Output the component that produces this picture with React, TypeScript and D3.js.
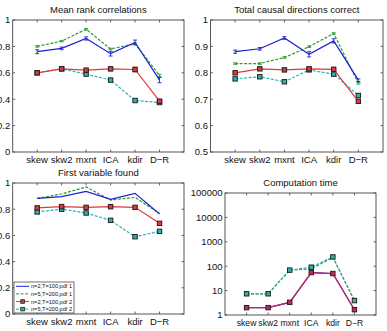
import React from "react";
import * as d3 from "d3";

// Methods on the x axis and the four experimental settings
const methods = ["skew", "skw2", "mxnt", "ICA", "kdir", "D−R"];
const seriesNames = ["n=2,T=100,pdf 1", "n=5,T=200,pdf 1", "n=2,T=100,pdf 2", "n=5,T=200,pdf 2"];

// Mean rank correlations
const mrcBlue = [0.76, 0.785, 0.86, 0.745, 0.83, 0.545];
const mrcGreen = [0.8, 0.84, 0.93, 0.78, 0.82, 0.58];
const mrcRed = [0.6, 0.63, 0.62, 0.63, 0.625, 0.385];
const mrcCyan = [0.6, 0.63, 0.59, 0.545, 0.39, 0.375];
const mrcBlueErr = [0.015, 0.01, 0.012, 0.018, 0.018, 0.02];
const mrcGreenErr = [0.006, 0.005, 0.006, 0.006, 0.006, 0.008];
const mrcRedErr = [0.01, 0.01, 0.012, 0.015, 0.018, 0.012];
const mrcCyanErr = [0.006, 0.006, 0.006, 0.006, 0.006, 0.006];

// Total causal directions correct
const tcdBlue = [0.88, 0.891, 0.932, 0.87, 0.921, 0.772];
const tcdGreen = [0.835, 0.835, 0.858, 0.899, 0.949, 0.76];
const tcdRed = [0.8, 0.815, 0.811, 0.815, 0.813, 0.692];
const tcdCyan = [0.777, 0.785, 0.766, 0.811, 0.795, 0.714];
const tcdBlueErr = [0.006, 0.005, 0.005, 0.01, 0.008, 0.005];
const tcdGreenErr = [0.003, 0.003, 0.003, 0.003, 0.003, 0.003];
const tcdRedErr = [0.006, 0.005, 0.006, 0.007, 0.008, 0.006];
const tcdCyanErr = [0.003, 0.003, 0.003, 0.003, 0.003, 0.004];

// First variable found
const fvfBlue = [0.883, 0.896, 0.936, 0.875, 0.921, 0.763];
const fvfGreen = [0.883, 0.916, 0.97, 0.87, 0.89, 0.768];
const fvfRed = [0.81, 0.82, 0.814, 0.819, 0.814, 0.692];
const fvfCyan = [0.779, 0.8, 0.771, 0.715, 0.59, 0.631];

// Computation time (log scale)
const ctBlue = [2.0, 2.0, 3.3, 55, 50, 1.65];
const ctGreen = [7.4, 7.4, 69, 78, 230, 3.9];
const ctRed = [2.0, 2.0, 3.3, 55, 50, 1.65];
const ctCyan = [7.4, 7.4, 69, 91, 240, 3.9];

const linTicks01 = [0, 0.2, 0.4, 0.6, 0.8, 1];
const linTicks05 = [0.5, 0.6, 0.7, 0.8, 0.9, 1];
const logTicks = [1, 10, 100, 1000, 10000, 100000];

const FONT = "'Liberation Sans', Arial, sans-serif";
const BLUE = "#1f1fd6";
const GREEN = "#2f9a2f";
const RED = "#e0383c";
const CYAN = "#2bb5b0";
const CRIMSON = "#c8245a";

type Series = {
  values: number[];
  color: string;
  dash?: string;
  square?: boolean;
  err?: number[];
  opacity?: number;
};

type PanelProps = {
  left: number;
  right: number;
  top: number;
  bottom: number;
  log?: boolean;
  domain: [number, number];
  ticks: number[];
  fmt: (v: number) => string;
  title: string;
  titleY: number;
  series: Series[];
  xFont?: number;
  children?: React.ReactNode;
};

function Panel(p: PanelProps) {
  const x = d3.scaleLinear().domain([0, 7]).range([p.left, p.right]);
  const y = p.log
    ? d3.scaleLog().domain(p.domain).range([p.bottom, p.top])
    : d3.scaleLinear().domain(p.domain).range([p.bottom, p.top]);
  const line = d3
    .line<number>()
    .x((_, i) => x(i + 1))
    .y((v) => y(v));
  const axisColor = "#444";
  const tk = 2.5;
  return (
    <g>
      <rect x={p.left} y={p.top} width={p.right - p.left} height={p.bottom - p.top} fill="#fff" stroke="none" />
      {methods.map((m, i) => (
        <g key={m}>
          <line x1={x(i + 1)} x2={x(i + 1)} y1={p.bottom} y2={p.bottom - tk} stroke={axisColor} strokeWidth={0.8} />
          <line x1={x(i + 1)} x2={x(i + 1)} y1={p.top} y2={p.top + tk} stroke={axisColor} strokeWidth={0.8} />
          <text
            x={x(i + 1)}
            y={p.bottom + 11}
            textAnchor="middle"
            fontSize={p.xFont ?? 9.5}
            fontFamily={FONT}
            fill="#111"
          >
            {m}
          </text>
        </g>
      ))}
      {p.ticks.map((t) => (
        <g key={t}>
          <line x1={p.left} x2={p.left + tk} y1={y(t)} y2={y(t)} stroke={axisColor} strokeWidth={0.8} />
          <line x1={p.right} x2={p.right - tk} y1={y(t)} y2={y(t)} stroke={axisColor} strokeWidth={0.8} />
          <text x={p.left - 2.5} y={y(t) + 3.4} textAnchor="end" fontSize={9.5} fontFamily={FONT} fill="#111">
            {p.fmt(t)}
          </text>
        </g>
      ))}
      {p.series.map((s, si) => (
        <g key={si} opacity={s.opacity ?? 1}>
          <path d={line(s.values) ?? ""} fill="none" stroke={s.color} strokeWidth={1.2} strokeDasharray={s.dash} />
          {s.err &&
            s.values.map((v, i) => {
              const e = s.err![i];
              const cx = x(i + 1);
              return (
                <g key={i} stroke={s.color} strokeWidth={0.9}>
                  <line x1={cx} x2={cx} y1={y(v - e)} y2={y(v + e)} />
                  <line x1={cx - 2} x2={cx + 2} y1={y(v - e)} y2={y(v - e)} />
                  <line x1={cx - 2} x2={cx + 2} y1={y(v + e)} y2={y(v + e)} />
                </g>
              );
            })}
          {s.square &&
            s.values.map((v, i) => (
              <rect
                key={i}
                x={x(i + 1) - 2.2}
                y={y(v) - 2.2}
                width={4.4}
                height={4.4}
                fill={s.color}
                stroke="#222"
                strokeWidth={1}
              />
            ))}
        </g>
      ))}
      <rect
        x={p.left}
        y={p.top}
        width={p.right - p.left}
        height={p.bottom - p.top}
        fill="none"
        stroke={axisColor}
        strokeWidth={0.9}
      />
      <text
        x={(p.left + p.right) / 2}
        y={p.titleY}
        textAnchor="middle"
        fontSize={9.5}
        fontFamily={FONT}
        fill="#111"
      >
        {p.title}
      </text>
      {p.children}
    </g>
  );
}

const fmtLin = (v: number) => String(v);
const fmtLog = (v: number) => String(v);

function Legend({ x0, y0 }: { x0: number; y0: number }) {
  const styles = [
    { color: BLUE, dash: undefined, square: false },
    { color: GREEN, dash: "3,1.5", square: false },
    { color: RED, dash: undefined, square: true },
    { color: CYAN, dash: "3,1.5", square: true },
  ];
  const rowH = 7.6;
  return (
    <g>
      <rect x={x0} y={y0} width={60} height={31} fill="#fff" stroke="#333" strokeWidth={0.7} />
      {seriesNames.map((n, i) => {
        const cy = y0 + 4.3 + i * rowH;
        const st = styles[i];
        return (
          <g key={n}>
            <line x1={x0 + 2} x2={x0 + 15} y1={cy} y2={cy} stroke={st.color} strokeWidth={1} strokeDasharray={st.dash} />
            {st.square && (
              <rect x={x0 + 6.8} y={cy - 1.8} width={3.6} height={3.6} fill={st.color} stroke="#222" strokeWidth={0.8} />
            )}
            <text x={x0 + 17} y={cy + 2} fontSize={5.6} fontFamily={FONT} fill="#111">
              {n}
            </text>
          </g>
        );
      })}
    </g>
  );
}

export default function App() {
  return (
    <svg
      width={387}
      height={331}
      style={{ position: "absolute", left: 0, top: 0, background: "#fff" }}
    >
      <rect width={387} height={331} fill="#fff" />
      <Panel
        left={12.7}
        right={184}
        top={20}
        bottom={152}
        domain={[0, 1]}
        ticks={linTicks01}
        fmt={fmtLin}
        title="Mean rank correlations"
        titleY={12.5}
        series={[
          { values: mrcCyan, color: CYAN, dash: "3,1.5", square: true, err: mrcCyanErr },
          { values: mrcRed, color: RED, square: true, err: mrcRedErr },
          { values: mrcGreen, color: GREEN, dash: "3,1.5", err: mrcGreenErr },
          { values: mrcBlue, color: BLUE, err: mrcBlueErr },
        ]}
      />
      <Panel
        left={210.5}
        right={383}
        top={20}
        bottom={152}
        domain={[0.5, 1]}
        ticks={linTicks05}
        fmt={fmtLin}
        title="Total causal directions correct"
        titleY={12.5}
        series={[
          { values: tcdCyan, color: CYAN, dash: "3,1.5", square: true, err: tcdCyanErr },
          { values: tcdRed, color: RED, square: true, err: tcdRedErr },
          { values: tcdGreen, color: GREEN, dash: "3,1.5", err: tcdGreenErr },
          { values: tcdBlue, color: BLUE, err: tcdBlueErr },
        ]}
      />
      <Panel
        left={12.7}
        right={184}
        top={183}
        bottom={314}
        domain={[0, 1]}
        ticks={linTicks01}
        fmt={fmtLin}
        title="First variable found"
        titleY={175.5}
        series={[
          { values: fvfCyan, color: CYAN, dash: "3,1.5", square: true },
          { values: fvfRed, color: RED, square: true },
          { values: fvfGreen, color: GREEN, dash: "3,1.5" },
          { values: fvfBlue, color: BLUE },
        ]}
      >
        <Legend x0={14} y0={282} />
      </Panel>
      <Panel
        left={225}
        right={376}
        top={193}
        bottom={315}
        log
        domain={[1, 100000]}
        ticks={logTicks}
        fmt={fmtLog}
        title="Computation time"
        titleY={185.5}
        xFont={8.6}
        series={[
          { values: ctBlue, color: BLUE },
          { values: ctGreen, color: GREEN, dash: "3,1.5" },
          { values: ctCyan, color: CYAN, dash: "3,1.5", square: true },
          { values: ctRed, color: CRIMSON, square: true },
        ]}
      />
    </svg>
  );
}
